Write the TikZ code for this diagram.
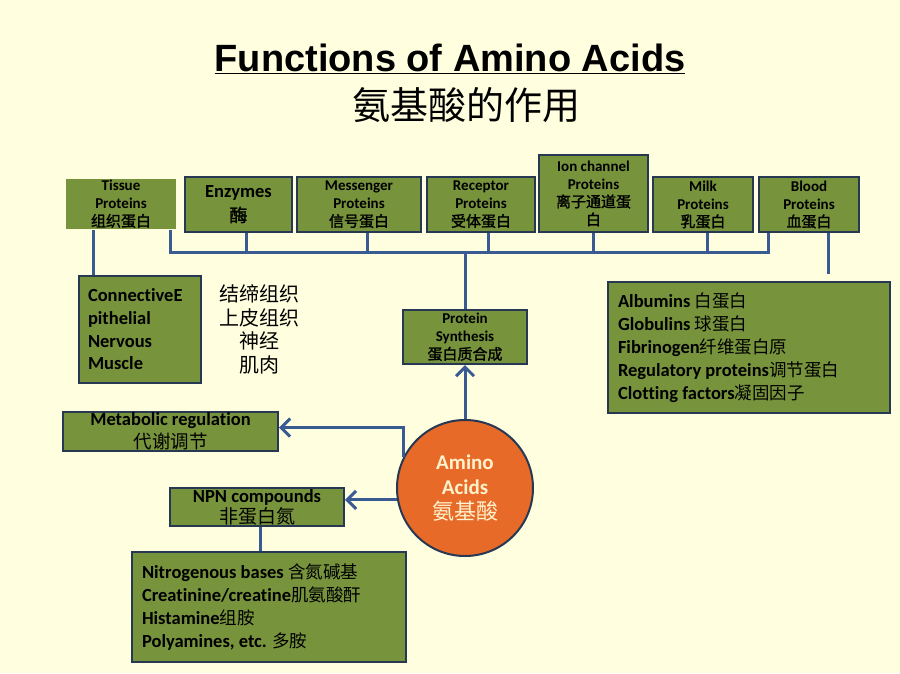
\documentclass[tikz,border=0pt]{standalone}
\usepackage{fontspec}
\setmainfont{Carlito}[Ligatures=NoCommon]
\newfontfamily\cjk{Noto Sans CJK SC}
\newfontfamily\cjkheavy{Noto Sans CJK SC}[FakeBold=1.5]
\newfontfamily\arialfont{Liberation Sans}
\usetikzlibrary{positioning,arrows.meta}
\definecolor{paper}{RGB}{255,255,224}
\definecolor{olive}{RGB}{119,147,60}
\definecolor{navy}{RGB}{38,56,82}
\definecolor{linkblue}{RGB}{58,90,148}
\definecolor{amber}{RGB}{232,106,40}
\definecolor{cream}{RGB}{255,242,204}
\newcommand\zh[2][15]{{\cjk\mdseries\fontsize{#1}{18}\selectfont #2}}
\newcommand\zhb[2][15]{{\cjkheavy\mdseries\fontsize{#1}{18}\selectfont #2}}

\begin{document}
\begin{tikzpicture}[x=1pt,y=-1pt,>={Straight Barb[length=9pt,width=18pt]},
  box/.style={draw=navy,line width=2pt,fill=olive,inner sep=0pt,align=center,
    font=\bfseries\fontsize{15}{18}\selectfont},
  list/.style={box,align=flush left,inner xsep=10pt,font=\bfseries\fontsize{18.5}{23}\selectfont},
  link/.style={draw=linkblue,line width=3pt},
  plain/.style={inner sep=0pt,align=center}]
  \useasboundingbox[fill=paper] (0,0) rectangle (900,673);
  % title
  \node[plain,anchor=base,font=\arialfont\bfseries\fontsize{38}{40}\selectfont] (title) at (450,71) {\underline{Functions of Amino Acids}};
  \node[plain,font=\cjk\fontsize{38}{40}\selectfont] (subtitle) at (466,105) {氨基酸的作用};
  % protein row
  \node[box,draw=none,minimum width=110,minimum height=50] (tissue) at (121,204) {Tissue\\Proteins\\\zhb{组织蛋白}};
  \node[box,minimum width=107,minimum height=55,font=\bfseries\fontsize{18.5}{24}\selectfont] (enz) at (238.5,204.5) {Enzymes\\\zhb[18]{酶}};
  \node[box,minimum width=124,minimum height=55] (msg) at (359,204.5) {Messenger\\Proteins\\\zhb{信号蛋白}};
  \node[box,minimum width=108,minimum height=55] (rec) at (481,204.5) {Receptor\\Proteins\\\zhb{受体蛋白}};
  \node[box,minimum width=109,minimum height=77] (ion) at (593.5,193.5) {Ion channel\\Proteins\\\zhb{离子通道蛋}\\\zhb{白}};
  \node[box,minimum width=100,minimum height=55] (milk) at (703,204.5) {Milk\\Proteins\\\zhb{乳蛋白}};
  \node[box,minimum width=100,minimum height=55] (blood) at (809,204.5) {Blood\\Proteins\\\zhb{血蛋白}};
  % tissue and blood details
  \node[list,text width=104,minimum height=107,inner xsep=9pt,font=\bfseries\fontsize{18.5}{22.7}\selectfont] (conn) at (140,329.5) {ConnectiveE\\pithelial\\Nervous\\Muscle};
  \node[plain,right=17pt of conn,font=\cjk\fontsize{20}{23.5}\selectfont] (connzh) {结缔组织\\上皮组织\\神经\\肌肉};
  \node[list,text width=262,minimum height=131] (plasma) at (749,347.5) {Albumins \zh[17.5]{白蛋白}\\Globulins \zh[17.5]{球蛋白}\\Fibrinogen\zh[17.5]{纤维蛋白原}\\Regulatory proteins\zh[17.5]{调节蛋白}\\Clotting factors\zh[17.5]{凝固因子}};
  % centre
  \node[box,minimum width=124,minimum height=54] (syn) at (465,337) {Protein\\Synthesis\\\zhb{蛋白质合成}};
  \node[circle,draw=navy,line width=2pt,fill=amber,minimum size=136,inner sep=0pt,align=center,
    text=cream,font=\bfseries\fontsize{21}{25}\selectfont] (amino) at (465,488) {Amino\\Acids\\\zh[22]{氨基酸}};
  \node[box,minimum width=215,minimum height=39,font=\bfseries\fontsize{18.5}{23}\selectfont] (metab) at (170.5,431.5) {Metabolic regulation\\\zh[18.5]{代谢调节}};
  \node[box,minimum width=174,minimum height=38,font=\bfseries\fontsize{18.5}{21}\selectfont] (npn) at (257,507) {NPN compounds\\\zh[19]{非蛋白氮}};
  \node[list,text width=254,minimum height=110] (nitro) at (269,607) {Nitrogenous bases \zh[17.5]{含氮碱基}\\Creatinine/creatine\zh[17.5]{肌氨酸酐}\\Histamine\zh[17.5]{组胺}\\Polyamines, etc. \zh[17.5]{多胺}};
  % connectors
  \coordinate (bus) at (0,252);
  \draw[link] ([xshift=-28pt]tissue.south) -- ([xshift=-28pt]tissue.south |- conn.north);
  \draw[link] ([xshift=49pt]tissue.south) |- ([xshift=-41pt]blood.south |- bus) -- ([xshift=-41pt]blood.south);
  \foreach \n/\dx in {enz/7.5,msg/8,rec/7,ion/0,milk/4}
    \draw[link] ([xshift=\dx pt]\n.south) -- ([xshift=\dx pt]\n.south |- bus);
  \draw[link] (syn.north) -- (syn.north |- bus);
  \coordinate (bloodend) at ([xshift=19pt,yshift=7pt]blood.south |- plasma.north);
  \draw[link] ([xshift=19pt]blood.south) -- (bloodend);
  \draw[link,->] (amino.north) -- (syn.south);
  \draw[link,->] (amino.153) |- ([yshift=4pt]metab.east);
  \draw[link,->] (amino.190) -- (amino.190 -| npn.east);
  \draw[link] ([xshift=3pt]npn.south) -- ([xshift=3pt]npn.south |- nitro.north);
\end{tikzpicture}
\end{document}
